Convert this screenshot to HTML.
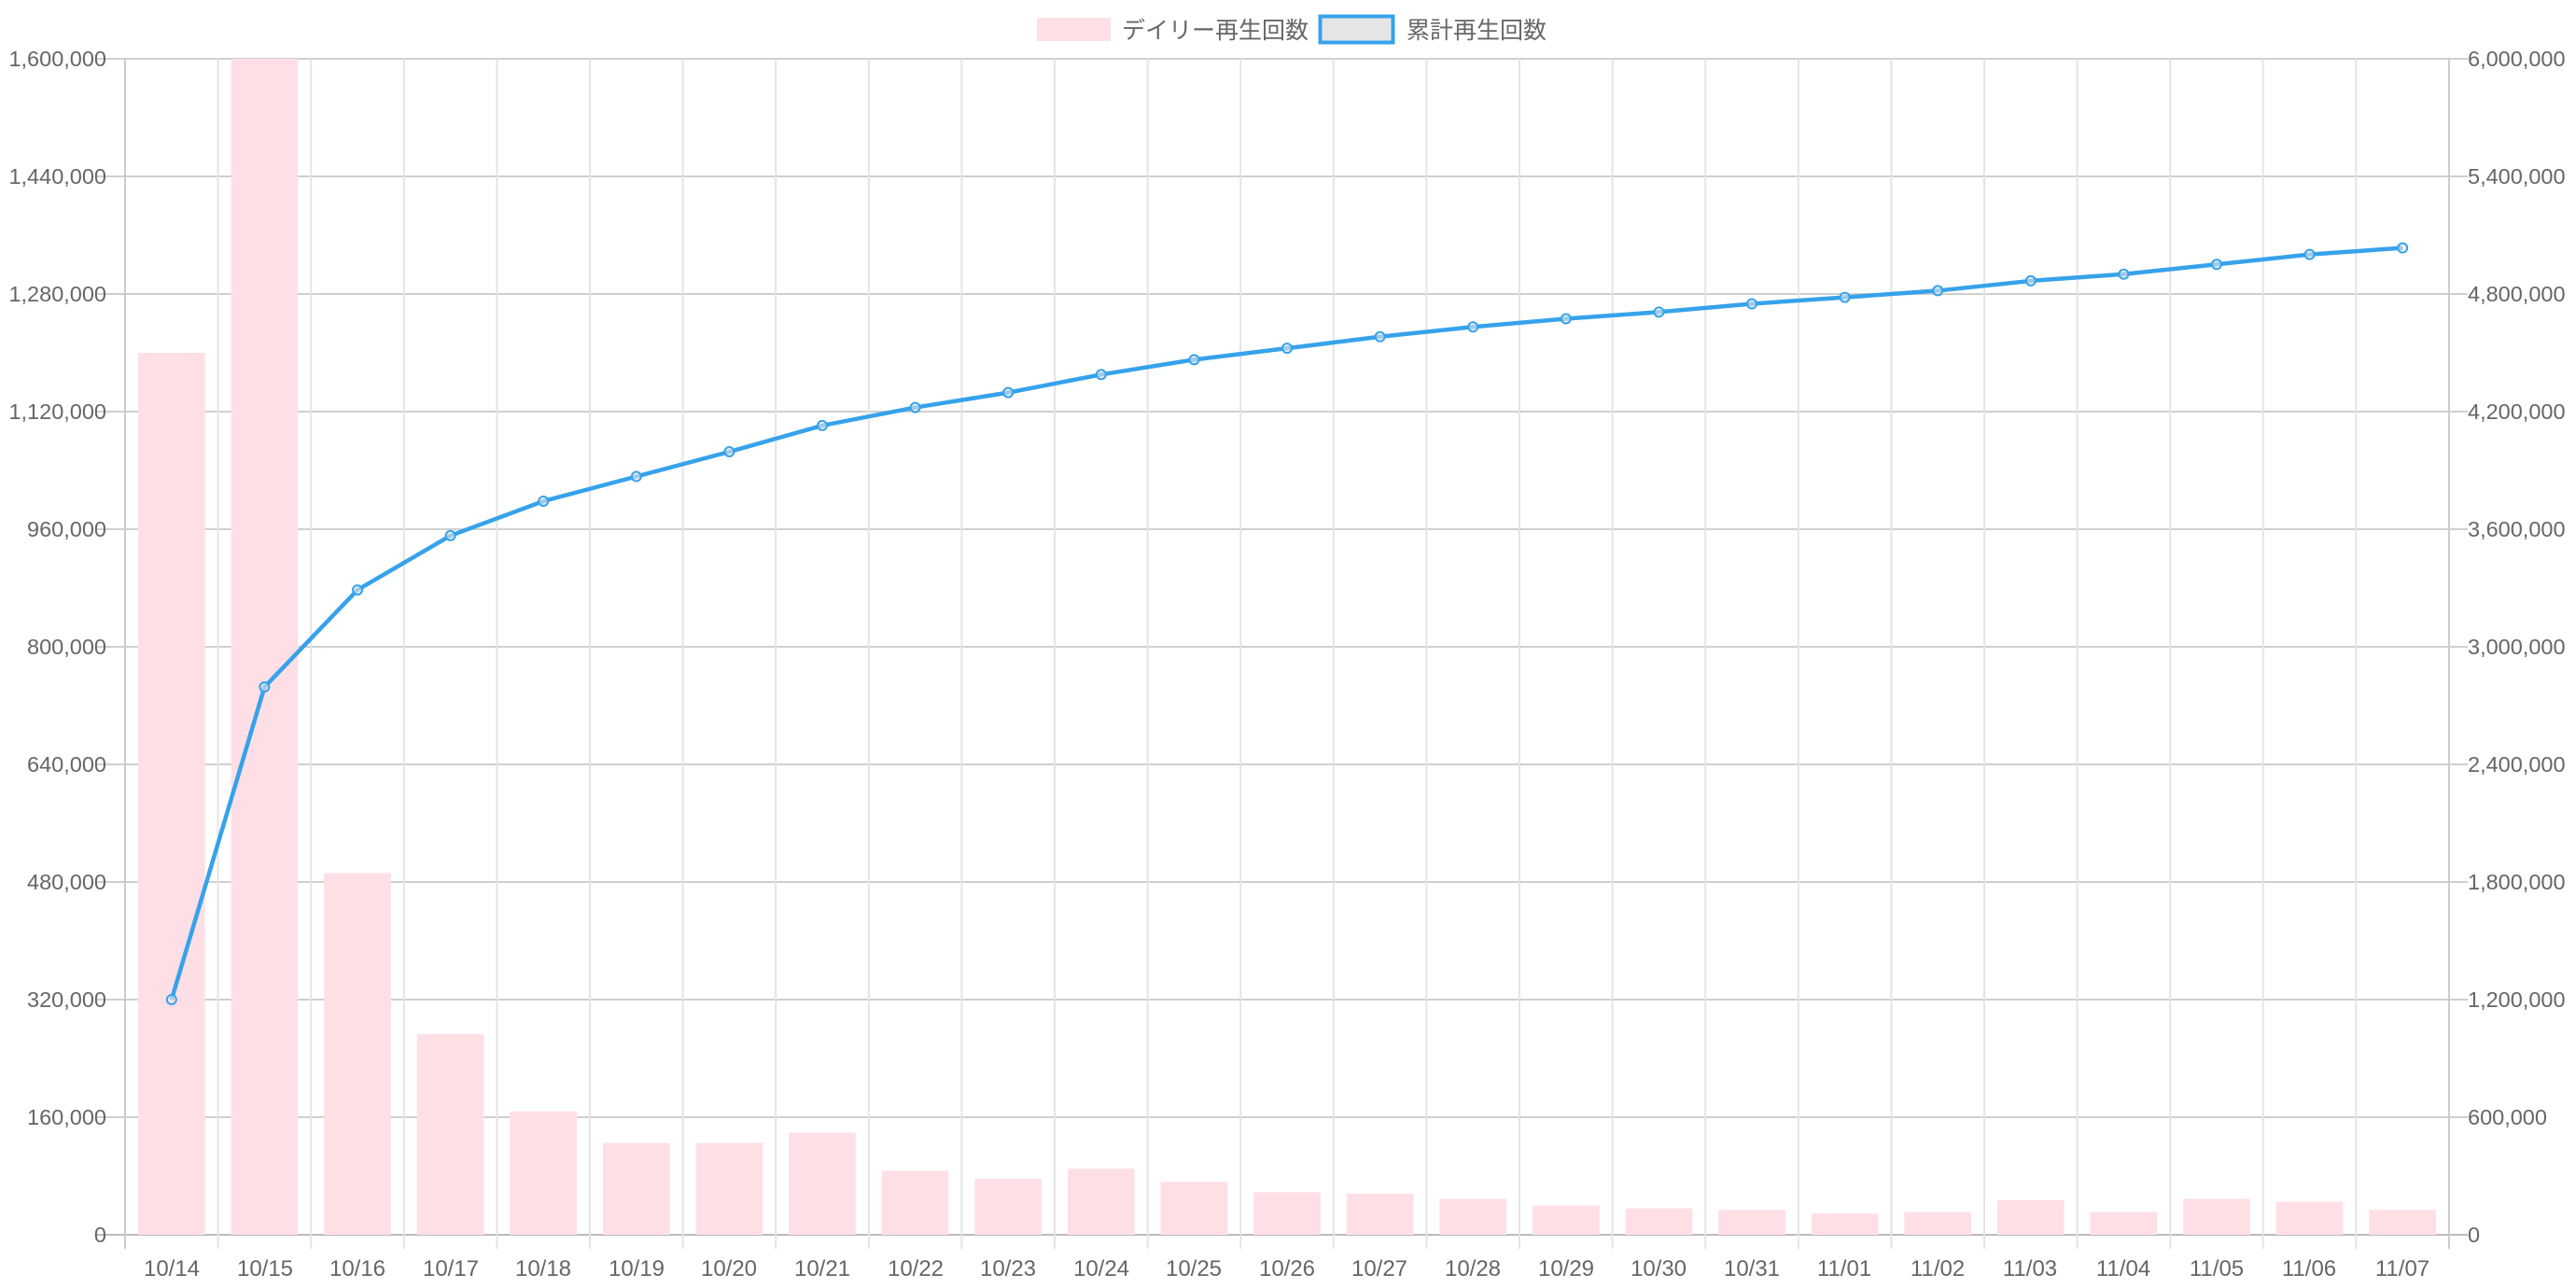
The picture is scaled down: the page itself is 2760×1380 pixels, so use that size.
<!DOCTYPE html>
<html><head><meta charset="utf-8"><style>
html,body{margin:0;padding:0;background:#fff;}
svg{display:block;}
text{font-family:"Liberation Sans","Noto Sans CJK JP",sans-serif;fill:#666;}
</style></head><body>
<svg id="s" width="2760" height="1380" xmlns="http://www.w3.org/2000/svg">
<g id="grid"></g>
<g id="bars"></g>
<g id="axes"></g>
<g id="line"></g>
<g>
<rect x="1111" y="19" width="79" height="25" fill="#ffdfe6"/>
<text x="1202" y="41" font-size="25">デイリー再生回数</text>
<rect x="1414.5" y="17.5" width="78" height="28" fill="#e5e5e5" stroke="#36a2eb" stroke-width="4"/>
<text x="1507" y="41" font-size="25">累計再生回数</text>
</g>
<g font-size="23.5" text-anchor="end">
<text x="114" y="71">1,600,000</text>
<text x="114" y="197">1,440,000</text>
<text x="114" y="323">1,280,000</text>
<text x="114" y="449">1,120,000</text>
<text x="114" y="575">960,000</text>
<text x="114" y="701">800,000</text>
<text x="114" y="827">640,000</text>
<text x="114" y="953">480,000</text>
<text x="114" y="1079">320,000</text>
<text x="114" y="1205">160,000</text>
<text x="114" y="1331">0</text>
</g>
<g font-size="23.5">
<text x="2644" y="71">6,000,000</text>
<text x="2644" y="197">5,400,000</text>
<text x="2644" y="323">4,800,000</text>
<text x="2644" y="449">4,200,000</text>
<text x="2644" y="575">3,600,000</text>
<text x="2644" y="701">3,000,000</text>
<text x="2644" y="827">2,400,000</text>
<text x="2644" y="953">1,800,000</text>
<text x="2644" y="1079">1,200,000</text>
<text x="2644" y="1205">600,000</text>
<text x="2644" y="1331">0</text>
</g>
<g font-size="24" text-anchor="middle">
<text x="184" y="1367">10/14</text><text x="284" y="1367">10/15</text><text x="383" y="1367">10/16</text><text x="483" y="1367">10/17</text><text x="582" y="1367">10/18</text><text x="682" y="1367">10/19</text><text x="781" y="1367">10/20</text><text x="881" y="1367">10/21</text><text x="981" y="1367">10/22</text><text x="1080" y="1367">10/23</text><text x="1180" y="1367">10/24</text><text x="1279" y="1367">10/25</text><text x="1379" y="1367">10/26</text><text x="1478" y="1367">10/27</text><text x="1578" y="1367">10/28</text><text x="1678" y="1367">10/29</text><text x="1777" y="1367">10/30</text><text x="1877" y="1367">10/31</text><text x="1976" y="1367">11/01</text><text x="2076" y="1367">11/02</text><text x="2175" y="1367">11/03</text><text x="2275" y="1367">11/04</text><text x="2375" y="1367">11/05</text><text x="2474" y="1367">11/06</text><text x="2574" y="1367">11/07</text>
</g>
</svg>
<script>
var NS="http://www.w3.org/2000/svg";
function el(p,t,a){var e=document.createElementNS(NS,t);for(var k in a)e.setAttribute(k,a[k]);document.getElementById(p).appendChild(e);return e;}
var L=134,R=2624,T=63,B=1323,W=(R-L)/25,H=B-T;
for(var i=0;i<=10;i++){var y=T+H*i/10;el("grid","line",{x1:104,x2:R+20,y1:y,y2:y,stroke:i==10?"#bbb":"#cfcfcf","stroke-width":2});}
for(var i=0;i<=25;i++){var x=L+W*i;el("grid","line",{x1:x,x2:x,y1:T,y2:1338,stroke:(i==0||i==25)?"#ccc":"#e4e4e4","stroke-width":2});}
var bars=[1200000,1700000,492000,273000,168000,125000,125000,139000,87000,76000,90000,72000,58000,56000,49000,40000,36000,34000,29000,31000,47000,31000,49000,45000,34000];
var cum=[1.2,2.795,3.29,3.567,3.743,3.869,3.995,4.129,4.221,4.297,4.389,4.465,4.523,4.582,4.632,4.674,4.708,4.750,4.783,4.817,4.867,4.901,4.951,5.002,5.035];
var bw=W*0.72,pts=[];
for(var i=0;i<25;i++){var cx=L+W*(i+0.5);var v=Math.min(bars[i],1600000);var h=v/1600000*H;
el("bars","rect",{x:cx-bw/2,y:B-h,width:bw,height:h,fill:"#ffdfe6"});
pts.push([cx,B-cum[i]/6*H]);}
el("line","polyline",{points:pts.map(function(p){return p.join(",")}).join(" "),fill:"none",stroke:"#36a2eb","stroke-width":4.5,"stroke-linejoin":"round"});
pts.forEach(function(p){el("line","circle",{cx:p[0],cy:p[1],r:5,fill:"rgba(230,230,230,0.6)",stroke:"#36a2eb","stroke-width":2});});
</script>
</body></html>
